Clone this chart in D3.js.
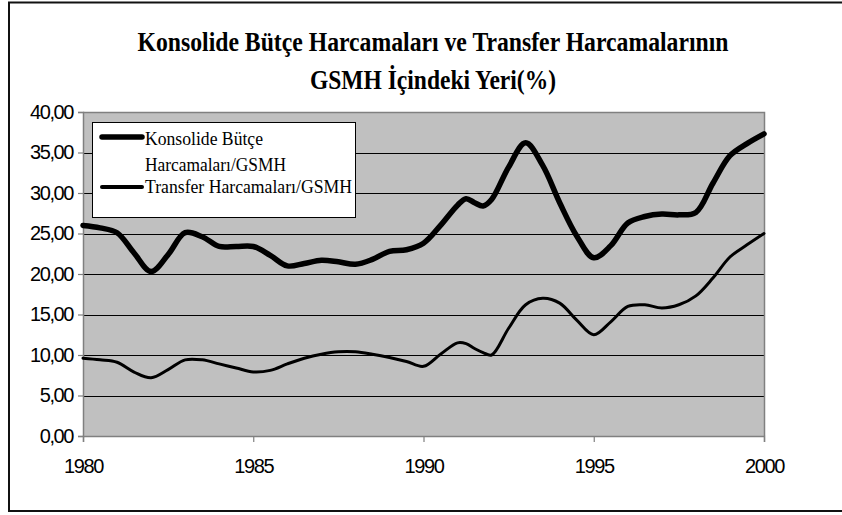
<!DOCTYPE html>
<html><head><meta charset="utf-8">
<script src="https://cdn.jsdelivr.net/npm/d3@7"></script>
<style>body{margin:0;background:#fff}svg{display:block}</style>
</head><body>
<svg id="c" width="842" height="515"></svg>
<script>
const titleLines = ["Konsolide Bütçe Harcamaları ve Transfer Harcamalarının", "GSMH İçindeki Yeri(%)"];
const seriesNames = ["Konsolide Bütçe Harcamaları/GSMH", "Transfer Harcamaları/GSMH"];
const periods = [1980,1980.5,1981,1981.5,1982,1982.5,1983,1983.5,1984,1984.5,1985,1985.5,1986,1986.5,1987,1987.5,1988,1988.5,1989,1989.5,1990,1990.5,1991,1991.25,1991.5,1991.75,1992,1992.5,1993,1993.5,1994,1994.5,1995,1995.5,1996,1996.5,1997,1997.5,1998,1998.5,1999,1999.5,2000];
const konsolide = [26.0,25.7,25.1,22.6,20.3,22.4,25.1,24.6,23.4,23.4,23.4,22.3,21.0,21.3,21.7,21.5,21.2,21.8,22.8,23.0,23.8,26.0,28.5,29.3,28.8,28.4,29.2,33.2,36.2,33.4,28.8,24.7,22.0,23.5,26.3,27.1,27.4,27.3,27.6,31.2,34.6,36.1,37.3];
const transfer = [9.6,9.4,9.1,7.9,7.2,8.2,9.4,9.4,8.9,8.4,7.9,8.1,8.9,9.6,10.1,10.4,10.4,10.1,9.7,9.2,8.6,10.1,11.5,11.4,10.8,10.3,10.0,13.3,16.2,17.0,16.4,14.3,12.5,14.1,16.0,16.2,15.8,16.2,17.3,19.5,22.1,23.6,25.0];
const yTicks = [0,5,10,15,20,25,30,35,40];
const xTicks = [1980,1985,1990,1995,2000];

const svg = d3.select("#c");
const x = d3.scaleLinear().domain([1980,2000]).range([83,764]);
const y = d3.scaleLinear().domain([0,40]).range([436,112]);

// outer frame
svg.append("rect").attr("x",9).attr("y",2.5).attr("width",850).attr("height",508.5)
  .attr("fill","none").attr("stroke","#111").attr("stroke-width",2);

// title
const tl = svg.append("g").attr("font-family","'Liberation Serif','Times New Roman',serif")
  .attr("font-weight","bold").attr("font-size",28).attr("fill","#000").attr("text-anchor","middle");
tl.append("text").attr("x",433).attr("y",51).attr("textLength",591).attr("lengthAdjust","spacingAndGlyphs").text(titleLines[0]);
tl.append("text").attr("x",433).attr("y",89).attr("textLength",246).attr("lengthAdjust","spacingAndGlyphs").text(titleLines[1]);

// plot background
svg.append("rect").attr("x",x(1980)).attr("y",y(40)).attr("width",x(2000)-x(1980)).attr("height",y(0)-y(40))
  .attr("fill","#c0c0c0");

// gridlines
svg.append("g").selectAll("line").data(yTicks.filter(d=>d>0&&d<40)).join("line")
  .attr("x1",x(1980)).attr("x2",x(2000)).attr("y1",d=>Math.round(y(d))+0.5).attr("y2",d=>Math.round(y(d))+0.5)
  .attr("stroke","#000").attr("stroke-width",1);

// plot border top/right
svg.append("path").attr("d",`M${x(1980)},${y(40)+0.5}H${x(2000)+0.5}V${y(0)}`).attr("fill","none").attr("stroke","#808080").attr("stroke-width",1.5);

// axes
const yAxis = d3.axisLeft(y).tickValues(yTicks).tickSize(5).tickPadding(5)
  .tickFormat(d=>d3.format(".2f")(d).replace(".",","));
const gy = svg.append("g").attr("transform",`translate(${x(1980)},0)`).call(yAxis);
const xAxis = d3.axisBottom(x).tickValues(xTicks).tickSize(6).tickPadding(17).tickFormat(d3.format("d"));
const gx = svg.append("g").attr("transform",`translate(0,${y(0)})`).call(xAxis);
[gy,gx].forEach(g=>{
  g.select(".domain").attr("stroke","#808080").attr("stroke-width",1.5);
  g.selectAll(".tick line").attr("stroke","#808080").attr("stroke-width",1.2);
  g.selectAll("text").attr("font-family","'Liberation Sans',Arial,sans-serif").attr("font-size",20)
    .attr("letter-spacing","-1.4px").attr("fill","#000");
});

// lines
const line = d3.line().x((d,i)=>x(periods[i])).y(d=>y(d)).curve(d3.curveCatmullRom.alpha(0.5));
svg.append("path").datum(transfer).attr("d",line).attr("fill","none").attr("stroke","#000")
  .attr("stroke-width",3).attr("stroke-linejoin","round").attr("stroke-linecap","round");
svg.append("path").datum(konsolide).attr("d",line).attr("fill","none").attr("stroke","#000")
  .attr("stroke-width",5.5).attr("stroke-linejoin","round").attr("stroke-linecap","round");

// legend
const lg = svg.append("g");
lg.append("rect").attr("x",92.5).attr("y",122.5).attr("width",263).attr("height",95)
  .attr("fill","#fff").attr("stroke","#000").attr("stroke-width",1);
lg.append("line").attr("x1",102).attr("x2",142).attr("y1",137).attr("y2",137)
  .attr("stroke","#000").attr("stroke-width",5.5).attr("stroke-linecap","round");
lg.append("line").attr("x1",102).attr("x2",142).attr("y1",187).attr("y2",187)
  .attr("stroke","#000").attr("stroke-width",4).attr("stroke-linecap","round");
const lt = lg.append("g").attr("font-family","'Liberation Serif','Times New Roman',serif").attr("font-size",19).attr("fill","#000");
lt.append("text").attr("x",145).attr("y",145).attr("textLength",118).attr("lengthAdjust","spacingAndGlyphs").text("Konsolide Bütçe");
lt.append("text").attr("x",145).attr("y",171).attr("textLength",141).attr("lengthAdjust","spacingAndGlyphs").text("Harcamaları/GSMH");
lt.append("text").attr("x",145).attr("y",193).attr("textLength",207).attr("lengthAdjust","spacingAndGlyphs").text("Transfer Harcamaları/GSMH");
</script>
</body></html>
